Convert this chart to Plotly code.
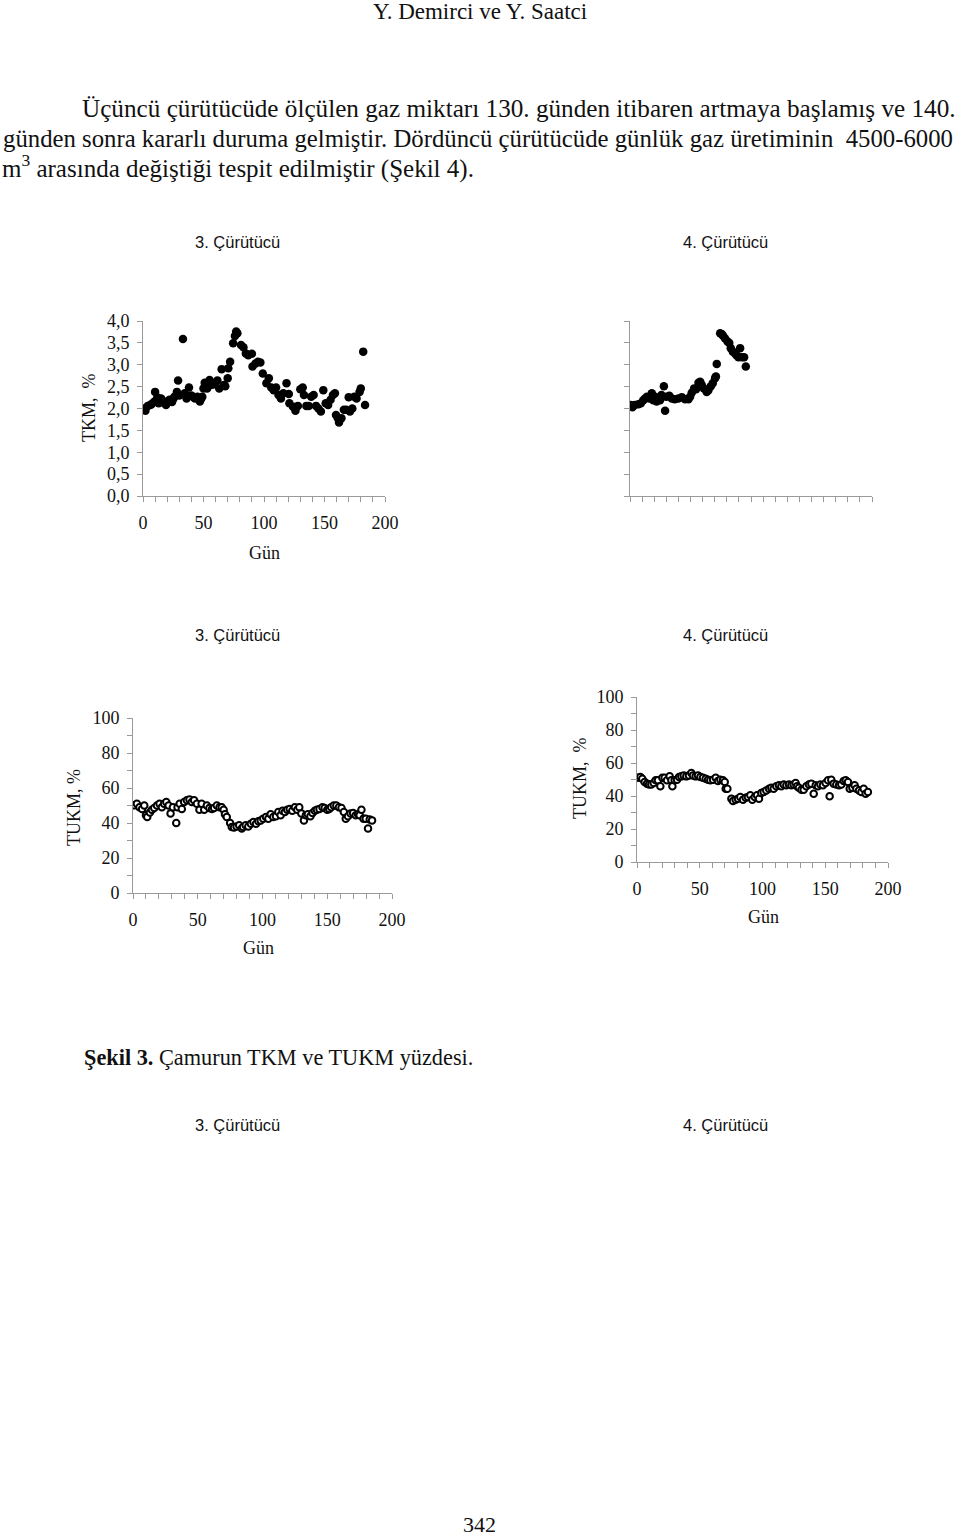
import plotly.graph_objects as go

W, H = 960, 1539

# ---------------- data ----------------
tkm3_day = [0.5, 2, 4, 6, 7, 9, 10, 11, 12, 13, 15, 16, 18, 19, 21, 22, 24, 25, 26, 28,
            29, 30, 33, 34.5, 36, 38, 40, 42, 43, 45, 47, 48, 49, 50, 51, 53, 55, 56, 58, 59,
            61.5, 63, 65, 67, 68, 70, 70.5, 72, 74.5, 76, 77, 78, 81, 83, 85, 87, 90, 90.5, 93, 95,
            97, 99, 102, 104, 106, 108, 110, 112, 114, 116, 118.6, 120.5, 121, 124, 126, 128, 130, 132, 133, 135,
            137, 139, 141, 143, 145, 147, 149, 151, 153, 155, 157, 158.6, 159.5, 161, 162, 164, 166, 168, 170, 171,
            173, 174.6, 176.5, 179, 180, 182, 183.5]
tkm3_val = [2.00, 1.95, 2.06, 2.08, 2.10, 2.15, 2.38, 2.20, 2.25, 2.12, 2.23, 2.15, 2.12, 2.08, 2.18, 2.20, 2.15, 2.22, 2.27, 2.38,
            2.64, 2.30, 3.59, 2.35, 2.23, 2.48, 2.30, 2.25, 2.23, 2.27, 2.16, 2.22, 2.27, 2.46, 2.59, 2.46, 2.65, 2.54, 2.55, 2.57,
            2.64, 2.46, 2.90, 2.54, 2.51, 2.69, 2.92, 3.07, 3.49, 3.66, 3.76, 3.72, 3.45, 3.40, 3.26, 3.22, 3.25, 2.96, 3.03, 3.07,
            3.05, 2.80, 2.58, 2.69, 2.48, 2.42, 2.48, 2.31, 2.23, 2.35, 2.58, 2.33, 2.12, 2.04, 1.95, 2.06, 2.44, 2.48, 2.31, 2.06,
            2.06, 2.27, 2.31, 2.06, 2.00, 1.93, 2.42, 2.12, 2.08, 2.20, 2.31, 2.35, 1.85, 1.78, 1.68, 1.78, 1.97, 1.97, 2.26, 1.93,
            2.00, 2.27, 2.23, 2.38, 2.46, 3.30, 2.08]

tkm4_day = [0.5, 2, 4, 7, 9, 11, 12.4, 14, 16, 18, 19.3, 20.7, 22, 23.4, 24.8, 26, 28, 29, 30, 32.5,
            34.5, 37, 40, 42.8, 45.5, 48.3, 49.7, 51, 53, 54.6, 56.6, 58, 59.3, 61, 63.4, 64.8, 66.8, 68.4, 70.3, 71,
            71.7, 74.5, 75.9, 77, 78.6, 80.6, 82, 83.3, 85, 87, 88, 89.6, 91, 92.4, 94.3, 95.7]
tkm4_val = [2.08, 2.03, 2.08, 2.10, 2.12, 2.19, 2.23, 2.27, 2.23, 2.35, 2.19, 2.27, 2.16, 2.23, 2.19, 2.31, 2.51, 1.95, 2.27, 2.29,
            2.23, 2.21, 2.23, 2.26, 2.21, 2.21, 2.27, 2.36, 2.46, 2.44, 2.59, 2.61, 2.54, 2.46, 2.38, 2.42, 2.51, 2.58, 2.69, 2.73,
            3.02, 3.72, 3.70, 3.66, 3.60, 3.53, 3.50, 3.38, 3.30, 3.25, 3.22, 3.17, 3.38, 3.17, 3.17, 2.96]

tukm3_day = [1, 3, 5, 7, 8.7, 10, 11, 13, 14.6, 16.4, 18.5, 20.5, 22.3, 24, 25.7, 27.5, 29, 30.8, 33.4, 34.4,
             36, 37.7, 39.5, 41.6, 43.6, 45.4, 47.2, 49.3, 51.3, 53, 55, 57, 59, 61, 62.6, 64.7, 66.8, 68.5, 70, 71,
             72.4, 75, 76.3, 78, 80, 82, 84, 85, 87, 89, 91, 93, 95, 96.8, 98.6, 100.6, 102.7, 104.5, 106.3, 108.3,
             110.4, 112.2, 114, 115.5, 117.3, 119.1, 121, 123, 125, 126.8, 128.4, 130, 132, 133.5, 135, 137, 138.6, 140.4, 142, 144,
             146.3, 148, 150, 151.5, 153, 155, 157, 159, 161, 162.8, 164.3, 166, 168, 170, 172, 173.8, 175, 176.4, 178, 179.7,
             181.5, 182.8, 184.6]
tukm3_val = [50.1, 51.0, 49.0, 48.0, 50.0, 44.4, 43.4, 46.0, 47.6, 48.6, 50.0, 51.0, 49.0, 51.0, 52.0, 50.0, 45.5, 49.0, 40.0, 49.0,
             51.0, 48.0, 52.0, 53.0, 53.5, 52.0, 53.0, 51.0, 47.6, 51.0, 47.6, 50.0, 48.6, 48.0, 48.6, 50.0, 49.0, 49.0, 47.6, 45.0,
             43.4, 40.0, 37.7, 37.5, 38.0, 38.7, 36.8, 37.7, 38.7, 38.0, 39.6, 40.6, 39.6, 41.0, 41.5, 42.5, 43.4, 42.5, 45.0, 43.4,
             43.8, 46.3, 44.4, 47.0, 46.3, 47.6, 48.0, 47.0, 49.0, 47.6, 49.0, 45.5, 41.5, 44.4, 45.0, 43.8, 45.7, 47.0, 47.6, 48.0,
             49.0, 48.6, 47.6, 48.0, 49.0, 50.0, 50.0, 49.0, 48.6, 46.3, 42.5, 43.8, 45.5, 45.7, 44.4, 45.0, 44.4, 47.6, 42.5, 42.5,
             36.8, 42.0, 41.5]

tukm4_day = [0.8, 2.7, 4.2, 6.1, 8, 9.6, 11.4, 13.3, 14.9, 16.7, 18.6, 20.2, 22, 23.9, 26, 27.4, 28.2, 30, 31.9, 33.5,
             35.3, 37.2, 39.3, 41.4, 43.3, 44.6, 46.7, 48.6, 50.5, 52.6, 54.7, 56.6, 58.4, 60.6, 62.7, 64.5, 66.4, 68.5, 69.9, 70.7,
             72, 75.2, 76.5, 78.6, 80.5, 82.3, 84.5, 86.6, 88.4, 90.3, 91.9, 93.8, 95.6, 97.2, 99, 100.9, 103, 105.2, 107, 108.9,
             111, 113.1, 115, 116.9, 119, 121.1, 123, 124.8, 126.4, 127.5, 129, 131, 132.8, 134.9, 137, 138.9, 140.8, 142.4, 144.2, 146.1,
             148.2, 150.3, 152.2, 153.5, 154.8, 156.7, 158.8, 161, 162.8, 164.7, 166.3, 168.1, 169.5, 171.6, 173.4, 174.8, 176.9, 178.8, 180.6, 182.2,
             184]
tukm4_val = [51.1, 51.5, 50.5, 48.5, 47.5, 47.0, 47.0, 47.9, 49.5, 49.5, 45.9, 51.1, 51.1, 49.5, 51.9, 49.5, 45.9, 49.5, 49.9, 51.5,
             51.9, 52.5, 51.9, 52.5, 53.9, 52.5, 51.9, 52.5, 51.5, 51.1, 50.5, 49.9, 49.5, 49.9, 51.1, 49.1, 49.9, 49.5, 48.5, 44.4,
             44.4, 38.4, 37.0, 37.8, 38.4, 39.4, 37.8, 39.0, 39.4, 40.4, 37.8, 39.4, 40.4, 38.4, 41.8, 42.4, 43.4, 44.4, 45.0, 44.4,
             45.9, 46.5, 45.9, 47.0, 46.5, 47.0, 46.5, 47.0, 47.9, 45.9, 45.0, 43.8, 43.8, 45.9, 47.0, 47.5, 41.4, 46.5, 45.9, 47.0,
             46.5, 47.9, 49.5, 39.8, 49.9, 47.5, 47.0, 46.5, 47.0, 49.1, 49.5, 48.5, 44.4, 45.0, 46.5, 44.4, 43.4, 42.4, 44.4, 41.4,
             42.4]

tkm_ticks = [0, 0.5, 1, 1.5, 2, 2.5, 3, 3.5, 4]
tkm_ticktext = ["0,0", "0,5", "1,0", "1,5", "2,0", "2,5", "3,0", "3,5", "4,0"]
tukm_ticks = [0, 20, 40, 60, 80, 100]
day_ticks = [0, 50, 100, 150, 200]

page_header = "Y. Demirci ve Y. Saatci"
para_lines = [
    "Üçüncü çürütücüde ölçülen gaz miktarı 130. günden itibaren artmaya başlamış ve 140.",
    "günden sonra kararlı duruma gelmiştir. Dördüncü çürütücüde günlük gaz üretiminin \u00a04500-6000",
    "m<sup>3</sup> arasında değiştiği tespit edilmiştir (Şekil 4).",
]
caption = "<b>Şekil 3.</b> Çamurun TKM ve TUKM yüzdesi."
page_number = "342"
panel_titles = ["3. Çürütücü", "4. Çürütücü"]
x_title = "Gün"
tkm_title = "TKM,\u00a0 %"
tukm_title = "TUKM, %"
tukm_title4 = "TUKM,\u00a0 %"

# ---------------- helpers ----------------
SERIF = "Liberation Serif, Times New Roman, serif"
SANS = "Liberation Sans, Arial, sans-serif"
AX_COL = "#9a9a9a"
TXT = "#111"


def fx(px):
    return px / W


def fy(py):
    return 1 - py / H


fig = go.Figure()

filled = dict(size=8.5, color="black", symbol="circle", line=dict(width=0))
opened = dict(size=6.5, color="white", symbol="circle", line=dict(width=2, color="black"))

fig.add_trace(go.Scatter(x=tkm3_day, y=tkm3_val, mode="markers", marker=filled,
                         xaxis="x", yaxis="y", showlegend=False))
fig.add_trace(go.Scatter(x=tkm4_day, y=tkm4_val, mode="markers", marker=filled,
                         xaxis="x2", yaxis="y2", showlegend=False))
fig.add_trace(go.Scatter(x=tukm3_day, y=tukm3_val, mode="markers", marker=opened,
                         xaxis="x3", yaxis="y3", showlegend=False))
fig.add_trace(go.Scatter(x=tukm4_day, y=tukm4_val, mode="markers", marker=opened,
                         xaxis="x4", yaxis="y4", showlegend=False))

tickfont = dict(family=SERIF, size=18, color=TXT)


def xaxis(domain, anchor, labels=True):
    return dict(domain=domain, anchor=anchor, range=[0, 200], showgrid=False, zeroline=False,
                automargin=False,
                showline=True, linecolor=AX_COL, linewidth=1,
                ticks="outside", ticklen=5, tickcolor=AX_COL, tickwidth=1,
                tickvals=day_ticks, showticklabels=labels, tickfont=tickfont,
                ticklabelstandoff=5,
                minor=dict(dtick=10, tick0=0, ticks="outside", ticklen=5, tickcolor=AX_COL, showgrid=False))


def yaxis(domain, anchor, rng, tv, tt=None, labels=True, minor=None):
    d = dict(domain=domain, anchor=anchor, range=rng, showgrid=False, zeroline=False,
             automargin=False,
             showline=True, linecolor=AX_COL, linewidth=1,
             ticks="outside", ticklen=5, tickcolor=AX_COL, tickwidth=1,
             tickvals=tv, showticklabels=labels, tickfont=tickfont, ticklabelstandoff=4)
    if tt:
        d["ticktext"] = tt
    if minor:
        d["minor"] = dict(dtick=minor, tick0=0, ticks="outside", ticklen=5, tickcolor=AX_COL, showgrid=False)
    return d


fig.update_layout(
    template="none",
    width=W, height=H,
    margin=dict(l=0, r=0, t=0, b=0, pad=0, autoexpand=False),
    paper_bgcolor="white", plot_bgcolor="white",
    xaxis=xaxis([fx(143), fx(385)], "y", True),
    yaxis=yaxis([fy(496), fy(321)], "x", [0, 4], tkm_ticks, tkm_ticktext, True),
    xaxis2=xaxis([fx(630), fx(872)], "y2", False),
    yaxis2=yaxis([fy(496), fy(321)], "x2", [0, 4], tkm_ticks, tkm_ticktext, False),
    xaxis3=xaxis([fx(133), fx(392)], "y3", True),
    yaxis3=yaxis([fy(893), fy(718)], "x3", [0, 100], tukm_ticks, None, True, 10),
    xaxis4=xaxis([fx(637), fx(888)], "y4", True),
    yaxis4=yaxis([fy(862), fy(697)], "x4", [0, 100], tukm_ticks, None, True, 10),
)

ann = []


def text(s, x, y, size, family=SERIF, xanchor="center", angle=0):
    ann.append(dict(text=s, x=fx(x), y=fy(y), xref="paper", yref="paper",
                    xanchor=xanchor, yanchor="middle", showarrow=False, textangle=angle,
                    font=dict(family=family, size=size, color=TXT)))


text(page_header, 480, 11, 23)
text(para_lines[0], 80, 108, 25.2, xanchor="left")
text(para_lines[1], 1, 138, 24.75, xanchor="left")
text(para_lines[2], 0, 166, 25, xanchor="left")
for row_y in (242, 635, 1125):
    text(panel_titles[0], 237, row_y, 16.5, SANS)
    text(panel_titles[1], 725, row_y, 16.5, SANS)
text(caption, 82, 1057, 22.3, xanchor="left")
text(page_number, 479, 1524, 22)

# axis titles
text(x_title, 264, 553, 18)
text(x_title, 258, 948, 18)
text(x_title, 763, 917, 18)
text(tkm_title, 89, 408, 18, angle=-90)
text(tukm_title, 74, 808, 18, angle=-90)
text(tukm_title4, 580, 778, 18, angle=-90)

fig.update_layout(annotations=ann)

fig.write_html("out.html")
